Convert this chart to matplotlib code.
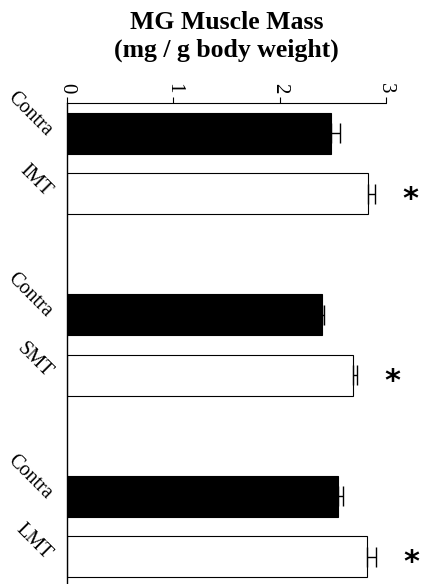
import numpy as np
import matplotlib.pyplot as plt

# Data
labels = ['Contra', 'IMT', 'Contra', 'SMT', 'Contra', 'LMT']
values = [2.48, 2.83, 2.40, 2.69, 2.55, 2.82]
errors = [0.09, 0.07, 0.02, 0.04, 0.05, 0.09]
colors = ['black', 'white', 'black', 'white', 'black', 'white']
significant = [False, True, False, True, False, True]
ticks = [0, 1, 2, 3]

pos = np.array([0, 1, 3, 4, 6, 7])

plt.rcParams['font.family'] = 'Liberation Serif'

fig = plt.figure(figsize=(4.36, 5.84), dpi=100)
ax = fig.add_axes([67 / 436, 0, 353 / 436, 481 / 584])

ax.barh(pos, values, height=0.68, color=colors, edgecolor='black', linewidth=0.8, zorder=2)
ax.errorbar(values, pos, xerr=[np.zeros(len(errors)), errors], fmt='none',
            ecolor='black', elinewidth=1, capsize=7, capthick=1, zorder=3)

# asterisks for significant bars
for p, v, e, s in zip(pos, values, errors, significant):
    if s:
        ax.text(v + e + 0.33, p + 0.1, '*', fontsize=22, fontweight='bold',
                ha='center', va='center', family='DejaVu Sans')

ax.set_xlim(0, 353 / 106.3)
ax.set_ylim(7.45, -0.5)

ax.xaxis.tick_top()
ax.set_xticks(ticks)
ax.set_xticklabels([str(t) for t in ticks], rotation=-90, fontsize=15)
ax.tick_params(axis='x', direction='out', length=4, width=0.8, pad=3)

ax.set_yticks(pos)
ax.set_yticklabels(labels, rotation=-45, ha='right', va='center',
                   rotation_mode='anchor', fontsize=14.5)
ax.tick_params(axis='y', length=0, pad=13)

ax.spines['right'].set_visible(False)
ax.spines['bottom'].set_visible(False)
ax.spines['top'].set_bounds(0, 3)
ax.spines['top'].set_linestyle((0, (3, 1)))
ax.spines['top'].set_linewidth(0.8)
ax.spines['left'].set_linewidth(1)

fig.text(0.52, 0.982, 'MG Muscle Mass\n(mg / g body weight)', ha='center', va='top',
         fontsize=18.5, fontweight='bold', linespacing=1.3)

fig.savefig('out.png', dpi=100)
